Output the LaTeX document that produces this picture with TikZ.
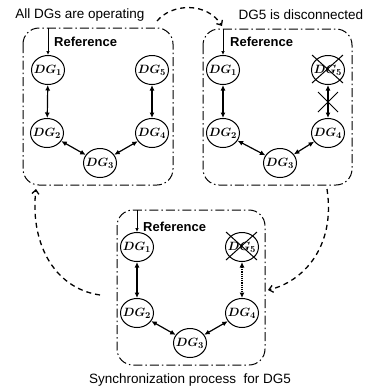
\documentclass[tikz,border=0pt]{standalone}
\usepackage{fontspec}
\setmainfont{Liberation Sans}
\usetikzlibrary{shapes.geometric,arrows.meta}
\newcommand\dglab[1]{\makebox[0pt]{$DG_{#1}$}}
\tikzset{
  dgnode/.style={ellipse, draw, line width=1pt, minimum width=33pt, minimum height=29pt, inner sep=0pt, fill=white,
    font=\fontsize{12.5}{15}\selectfont\boldmath},
  groupbox/.style={draw, line width=1pt, rounded corners=16pt, dash pattern=on 9pt off 3pt on 1.5pt off 3pt},
  link/.style={line width=1.2pt, {Latex[length=5.5pt,width=5pt]}-{Latex[length=5.5pt,width=5pt]}},
  syncl/.style={line width=1.2pt, densely dotted, {Latex[length=5.5pt,width=5pt]}-{Latex[length=5.5pt,width=5pt]}},
  refarrow/.style={line width=0.7pt, -{Latex[length=4pt,width=3.5pt]}},
  flow/.style={line width=1.3pt, dash pattern=on 5pt off 4pt, -{Straight Barb[length=4pt,width=7pt]}},
  reflabel/.style={anchor=west, inner sep=0pt, font=\fontsize{13}{15}\selectfont\bfseries},
  caption/.style={inner sep=0pt, font=\fontsize{13.5}{16}\selectfont},
  cross/.style={line width=1pt}
}
\begin{document}
\begin{tikzpicture}[x=1pt,y=-1pt]
\useasboundingbox (0,0) rectangle (371,389);
% boxes
\draw[groupbox] (23,28) rectangle (173,185);
\draw[groupbox] (203,29) rectangle (352,185);
\draw[groupbox] (117,210) rectangle (265,365);
% captions
\node[caption] (capA) at (80,15) {All DGs are operating};
\node[caption] (capB) at (301,15) {DG5 is disconnected};
\node[caption] (capC) at (190,380) {Synchronization process\ \ for DG5};
% box A
\node[dgnode] (a1) at (48,70) {\dglab{1}};
\node[dgnode] (a5) at (152,70) {\dglab{5}};
\node[dgnode] (a2) at (47,133) {\dglab{2}};
\node[dgnode] (a4) at (152,133) {\dglab{4}};
\node[dgnode] (a3) at (100,163) {\dglab{3}};
\coordinate (aref) at (48,28);
\draw[refarrow] (aref) -- (a1.north);
\node[reflabel] (alab) at (54,42) {Reference};
\draw[link] (a1) -- (a2);
\draw[link] (a5) -- (a4);
\draw[link] (a2) -- (a3);
\draw[link] (a3) -- (a4);
% box B
\node[dgnode] (b1) at (223,70) {\dglab{1}};
\node[dgnode] (b5) at (328,70) {\dglab{5}};
\node[dgnode] (b2) at (223,133) {\dglab{2}};
\node[dgnode] (b4) at (328,133) {\dglab{4}};
\node[dgnode] (b3) at (280,163) {\dglab{3}};
\coordinate (bref) at (223,29);
\draw[refarrow] (bref) -- (b1.north);
\node[reflabel] (blab) at (230,42) {Reference};
\draw[link] (b1) -- (b2);
\draw[link] (b5) -- (b4);
\draw[link] (b2) -- (b3);
\draw[link] (b3) -- (b4);
\draw[cross] ([shift={(-16,-15)}]b5.center) -- ([shift={(15,13)}]b5.center);
\draw[cross] ([shift={(15,-15)}]b5.center) -- ([shift={(-16,13)}]b5.center);
\coordinate (bx) at (328,102);
\draw[cross] ([shift={(-10,-10)}]bx) -- ([shift={(10,10)}]bx);
\draw[cross] ([shift={(10,-10)}]bx) -- ([shift={(-10,10)}]bx);
% box C
\node[dgnode] (c1) at (137,247) {\dglab{1}};
\node[dgnode] (c5) at (242,247) {\dglab{5}};
\node[dgnode] (c2) at (137,313) {\dglab{2}};
\node[dgnode] (c4) at (242,313) {\dglab{4}};
\node[dgnode] (c3) at (190,343) {\dglab{3}};
\coordinate (cref) at (137,210);
\draw[refarrow] (cref) -- (c1.north);
\node[reflabel] (clab) at (143,227) {Reference};
\draw[link] (c1) -- (c2);
\draw[syncl] (c5) -- (c4);
\draw[link] (c2) -- (c3);
\draw[link] (c3) -- (c4);
\draw[cross] ([shift={(-16,-15)}]c5.center) -- ([shift={(15,13)}]c5.center);
\draw[cross] ([shift={(15,-15)}]c5.center) -- ([shift={(-16,13)}]c5.center);
% flow arrows
\coordinate (f1s) at (157,21);
\coordinate (f1e) at (222,26);
\draw[flow] (f1s) .. controls (172,3) and (207,2) .. (f1e);
\coordinate (f2s) at (327,189);
\coordinate (f2e) at (268,290);
\draw[flow] (f2s) .. controls (336,248) and (302,282) .. (f2e);
\coordinate (f3s) at (100,295);
\coordinate (f3e) at (36,189);
\draw[flow] (f3s) .. controls (52,288) and (30,240) .. (f3e);
\end{tikzpicture}
\end{document}
